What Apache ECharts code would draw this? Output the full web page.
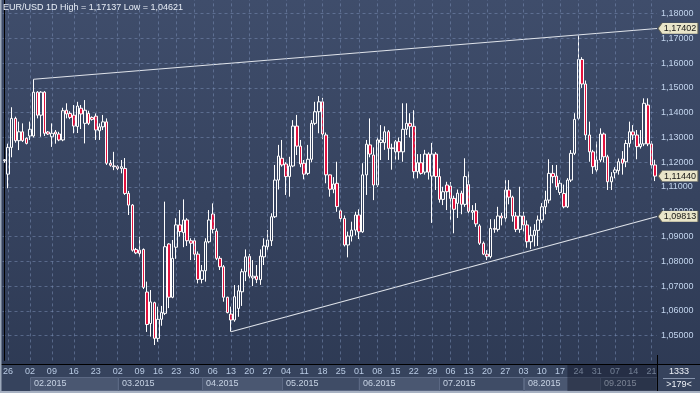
<!DOCTYPE html>
<html><head><meta charset="utf-8">
<script src="https://cdn.jsdelivr.net/npm/echarts@6/dist/echarts.min.js"></script>
<style>html,body{margin:0;padding:0;background:#36435e;overflow:hidden}#c{width:700px;height:393px}</style>
</head><body><div id="c"></div>
<script>
// ---- data ----
const dates = [
'2015-01-25','2015-01-26','2015-01-27','2015-01-28','2015-01-29','2015-01-30','2015-02-01',
'2015-02-02','2015-02-03','2015-02-04','2015-02-05','2015-02-06','2015-02-08',
'2015-02-09','2015-02-10','2015-02-11','2015-02-12','2015-02-13','2015-02-15',
'2015-02-16','2015-02-17','2015-02-18','2015-02-19','2015-02-20','2015-02-22',
'2015-02-23','2015-02-24','2015-02-25','2015-02-26','2015-02-27','2015-03-01',
'2015-03-02','2015-03-03','2015-03-04','2015-03-05','2015-03-06','2015-03-08',
'2015-03-09','2015-03-10','2015-03-11','2015-03-12','2015-03-13',
'2015-03-16','2015-03-17','2015-03-18','2015-03-19','2015-03-20',
'2015-03-23','2015-03-24','2015-03-25','2015-03-26','2015-03-27',
'2015-03-30','2015-03-31','2015-04-01','2015-04-02','2015-04-03',
'2015-04-06','2015-04-07','2015-04-08','2015-04-09','2015-04-10',
'2015-04-13','2015-04-14','2015-04-15','2015-04-16','2015-04-17',
'2015-04-20','2015-04-21','2015-04-22','2015-04-23','2015-04-24',
'2015-04-27','2015-04-28','2015-04-29','2015-04-30','2015-05-01',
'2015-05-04','2015-05-05','2015-05-06','2015-05-07','2015-05-08',
'2015-05-11','2015-05-12','2015-05-13','2015-05-14','2015-05-15',
'2015-05-18','2015-05-19','2015-05-20','2015-05-21','2015-05-22',
'2015-05-25','2015-05-26','2015-05-27','2015-05-28','2015-05-29',
'2015-06-01','2015-06-02','2015-06-03','2015-06-04','2015-06-05',
'2015-06-08','2015-06-09','2015-06-10','2015-06-11','2015-06-12',
'2015-06-15','2015-06-16','2015-06-17','2015-06-18','2015-06-19',
'2015-06-22','2015-06-23','2015-06-24','2015-06-25','2015-06-26',
'2015-06-29','2015-06-30','2015-07-01','2015-07-02','2015-07-03',
'2015-07-06','2015-07-07','2015-07-08','2015-07-09','2015-07-10',
'2015-07-13','2015-07-14','2015-07-15','2015-07-16','2015-07-17',
'2015-07-20','2015-07-21','2015-07-22','2015-07-23','2015-07-24',
'2015-07-27','2015-07-28','2015-07-29','2015-07-30','2015-07-31',
'2015-08-03','2015-08-04','2015-08-05','2015-08-06','2015-08-07',
'2015-08-10','2015-08-11','2015-08-12','2015-08-13','2015-08-14',
'2015-08-17','2015-08-18','2015-08-19','2015-08-20','2015-08-21',
'2015-08-24','2015-08-25','2015-08-26','2015-08-27','2015-08-28',
'2015-08-31','2015-09-01','2015-09-02','2015-09-03','2015-09-04',
'2015-09-07','2015-09-08','2015-09-09','2015-09-10','2015-09-11',
'2015-09-14','2015-09-15','2015-09-16','2015-09-17','2015-09-18',
'2015-09-21','2015-09-22'];

const open = [
1.1206,1.1152,1.1260,1.1377,1.1287,1.1323,1.1297,1.1306,1.1306,1.1483,
1.1390,1.1483,1.1322,1.1303,1.1322,1.1314,1.1290,1.1410,1.1397,1.1390,
1.1344,1.1418,1.1357,1.1397,1.1381,1.1386,1.1327,1.1343,1.1363,1.1196,
1.1185,1.1182,1.1175,1.1175,1.1074,1.1027,1.0848,1.0845,1.0848,1.0676,
1.0549,1.0633,1.0489,1.0566,1.0590,1.0870,1.0655,1.0857,1.0947,1.0916,
1.0967,1.0883,1.0883,1.0829,1.0727,1.0762,1.0879,1.0991,1.0922,1.0812,
1.0778,1.0655,1.0587,1.0563,1.0610,1.0677,1.0758,1.0820,1.0733,1.0740,
1.0726,1.0818,1.0859,1.0883,1.0980,1.1128,1.1216,1.1193,1.1142,1.1185,
1.1346,1.1265,1.1196,1.1155,1.1212,1.1357,1.1404,1.1444,1.1310,1.1149,
1.1091,1.1115,1.1004,1.0973,1.0866,1.0902,1.0926,1.0987,1.0919,1.1149,
1.1270,1.1229,1.1108,1.1280,1.1279,1.1323,1.1258,1.1242,1.1283,1.1242,
1.1333,1.1357,1.1345,1.1162,1.1198,1.1160,1.1233,1.1144,1.1233,1.1142,
1.1050,1.1108,1.1104,1.1054,1.1034,1.1075,1.1030,1.1110,1.0998,1.1004,
1.0943,1.0873,1.0829,1.0819,1.0933,1.0929,1.0983,1.0975,1.1088,1.1059,
1.0983,1.0929,1.0983,1.0947,1.0879,1.0905,1.0925,1.0967,1.1020,1.1047,
1.1155,1.1144,1.1078,1.1074,1.1020,1.1128,1.1236,1.1377,1.1615,1.1516,
1.1310,1.1242,1.1169,1.1209,1.1314,1.1222,1.1121,1.1158,1.1166,1.1213,
1.1202,1.1276,1.1323,1.1310,1.1263,1.1274,1.1431,1.1274,1.1189];

const high = [
1.1212,1.1275,1.1422,1.1384,1.1364,1.1357,1.1300,1.1364,1.1535,1.1487,
1.1487,1.1487,1.1326,1.1357,1.1330,1.1323,1.1420,1.1438,1.1406,1.1431,
1.1444,1.1431,1.1451,1.1408,1.1385,1.1397,1.1357,1.1391,1.1377,1.1209,
1.1242,1.1189,1.1209,1.1217,1.1084,1.1031,1.0854,1.0899,1.0852,1.0718,
1.0684,1.0637,1.0617,1.0620,1.1041,1.0873,1.0886,1.0974,1.1007,1.1050,
1.0974,1.0893,1.0894,1.0840,1.0785,1.0893,1.1007,1.1034,1.0933,1.0821,
1.0785,1.0657,1.0617,1.0704,1.0704,1.0770,1.0848,1.0830,1.0805,1.0785,
1.0848,1.0893,1.0926,1.0994,1.1189,1.1270,1.1290,1.1200,1.1222,1.1370,
1.1391,1.1290,1.1209,1.1270,1.1370,1.1444,1.1467,1.1460,1.1320,1.1150,
1.1140,1.1202,1.1010,1.0985,1.0920,1.0960,1.1000,1.1010,1.1196,1.1290,
1.1377,1.1260,1.1300,1.1350,1.1345,1.1330,1.1275,1.1290,1.1300,1.1438,
1.1438,1.1398,1.1410,1.1233,1.1233,1.1250,1.1240,1.1278,1.1241,1.1175,
1.1101,1.1121,1.1120,1.1065,1.1090,1.1085,1.1216,1.1162,1.1027,1.1035,
1.0950,1.0880,1.0845,1.0970,1.0970,1.1020,1.0995,1.1128,1.1128,1.1065,
1.0999,1.1101,1.1000,1.0965,1.0940,1.0950,1.0985,1.1035,1.1085,1.1212,
1.1189,1.1189,1.1128,1.1110,1.1136,1.1249,1.1398,1.1714,1.1624,1.1530,
1.1364,1.1250,1.1283,1.1337,1.1320,1.1230,1.1160,1.1180,1.1215,1.1245,
1.1290,1.1364,1.1350,1.1330,1.1330,1.1458,1.1458,1.1285,1.1210];

const low = [
1.1198,1.1095,1.1220,1.1279,1.1249,1.1282,1.1272,1.1290,1.1300,1.1377,
1.1303,1.1306,1.1310,1.1262,1.1275,1.1285,1.1285,1.1377,1.1374,1.1317,
1.1318,1.1334,1.1276,1.1350,1.1368,1.1290,1.1290,1.1330,1.1189,1.1182,
1.1168,1.1168,1.1155,1.1068,1.0987,1.0839,1.0829,1.0818,1.0688,1.0515,
1.0496,1.0462,1.0475,1.0540,1.0583,1.0611,1.0651,1.0810,1.0900,1.0857,
1.0862,1.0805,1.0805,1.0711,1.0711,1.0718,1.0873,1.0913,1.0805,1.0765,
1.0637,1.0590,1.0516,1.0556,1.0576,1.0620,1.0720,1.0731,1.0700,1.0712,
1.0705,1.0785,1.0845,1.0862,1.0975,1.1090,1.1182,1.1068,1.1061,1.1180,
1.1229,1.1180,1.1131,1.1148,1.1200,1.1350,1.1317,1.1293,1.1115,1.1061,
1.1075,1.1000,1.0960,1.0860,1.0816,1.0880,1.0905,1.0890,1.0915,1.1068,
1.1220,1.1047,1.1100,1.1209,1.1250,1.1209,1.1170,1.1210,1.1210,1.1202,
1.1310,1.1300,1.1135,1.1135,1.1150,1.1150,1.1130,1.0955,1.1088,1.1037,
1.1027,1.1007,1.0967,1.0913,1.0975,1.0990,1.1020,1.0994,1.0967,1.0939,
1.0866,1.0825,1.0805,1.0812,1.0915,1.0920,1.0945,1.0960,1.1030,1.0960,
1.0918,1.0915,1.0920,1.0855,1.0850,1.0860,1.0862,1.0955,1.0990,1.1034,
1.1115,1.1088,1.1068,1.1014,1.1015,1.1120,1.1229,1.1370,1.1500,1.1290,
1.1202,1.1153,1.1160,1.1200,1.1200,1.1088,1.1088,1.1135,1.1150,1.1150,
1.1180,1.1260,1.1290,1.1212,1.1255,1.1265,1.1265,1.1175,1.1124];

const close = [
1.1210,1.1260,1.1377,1.1287,1.1323,1.1287,1.1276,1.1333,1.1483,1.1390,
1.1483,1.1317,1.1314,1.1317,1.1314,1.1290,1.1408,1.1395,1.1381,1.1346,
1.1427,1.1395,1.1410,1.1357,1.1373,1.1330,1.1343,1.1363,1.1196,1.1188,
1.1182,1.1175,1.1182,1.1074,1.1027,1.0845,1.0834,1.0832,1.0695,1.0545,
1.0636,1.0489,1.0566,1.0593,1.0859,1.0655,1.0812,1.0947,1.0920,1.0967,
1.0883,1.0873,1.0829,1.0727,1.0762,1.0879,1.0967,1.0929,1.0812,1.0778,
1.0655,1.0593,1.0563,1.0657,1.0681,1.0758,1.0818,1.0740,1.0740,1.0726,
1.0821,1.0862,1.0886,1.0980,1.1128,1.1225,1.1189,1.1142,1.1185,1.1346,
1.1265,1.1193,1.1152,1.1212,1.1357,1.1404,1.1444,1.1314,1.1149,1.1091,
1.1112,1.1021,1.0973,1.0866,1.0902,1.0926,1.0987,1.0919,1.1149,1.1273,
1.1233,1.1108,1.1290,1.1290,1.1323,1.1256,1.1255,1.1283,1.1242,1.1333,
1.1357,1.1345,1.1162,1.1198,1.1155,1.1233,1.1160,1.1233,1.1142,1.1050,
1.1081,1.1081,1.1054,1.1010,1.1075,1.1030,1.1142,1.1002,1.1005,1.0951,
1.0873,1.0829,1.0819,1.0933,1.0929,1.0983,1.0975,1.1088,1.1059,1.0983,
1.0929,1.0983,1.0947,1.0879,1.0905,1.0925,1.0967,1.1020,1.1047,1.1155,
1.1142,1.1101,1.1115,1.1020,1.1128,1.1236,1.1373,1.1615,1.1516,1.1310,
1.1242,1.1182,1.1209,1.1314,1.1222,1.1121,1.1141,1.1169,1.1202,1.1196,
1.1276,1.1323,1.1310,1.1263,1.1274,1.1438,1.1274,1.1189,1.1144];

const titleText = 'EUR/USD 1D High = 1,17137 Low = 1,04621';
const upperStart = 8;          // candle where the upper trend line starts (its high)
const lowerStart = 62;         // candle where the lower trend line starts (its low)
const upperEndValue = 1.17402; // value of upper line at the right edge
const lowerEndValue = 1.09813; // value of lower line at the right edge
const footerTop = '1333';
const footerBottom = '>179<';
const yMin = 1.04, yMax = 1.1855, yStep = 0.01;
const labelMin = 1.05, labelMax = 1.18;

// ---- helpers ----
const FONT = '"Liberation Sans", Arial, sans-serif';
const fmt = v => v.toFixed(5).replace('.', ',');
const dow = d => new Date(d + 'T00:00:00Z').getUTCDay();
const isMonday = d => dow(d) === 1;
const isWeekday = d => { const w = dow(d); return w >= 1 && w <= 5; };
const ohlc = dates.map((d, i) => [open[i], close[i], low[i], high[i]]);
const mondays = dates.filter(isMonday);
const N = dates.length;
const gridCol = 'rgba(120,140,178,0.55)';

const chart = echarts.init(document.getElementById('c'), null, {renderer: 'canvas', width: 700, height: 393});

const gridH = 360.4; // plot height from top edge down to yMin

chart.setOption({
  animation: false,
  backgroundColor: {type: 'linear', x: 0, y: 0, x2: 0, y2: 1,
    colorStops: [{offset: 0, color: '#3f4d6b'}, {offset: 1, color: '#2d3953'}]},
  title: {text: titleText, left: 3, top: 3, padding: 0,
    textStyle: {color: '#e8eef7', fontSize: 9, fontWeight: 'normal', fontFamily: FONT}},
  grid: {left: 0.5, right: 43, top: 0, height: gridH},
  xAxis: [
    {type: 'category', data: dates, boundaryGap: true, offset: 364 - gridH,
     axisLine: {show: true, lineStyle: {color: '#000000', width: 1}},
     axisTick: {show: false},
     axisLabel: {interval: (i, v) => isMonday(v), formatter: v => v.slice(8, 10),
       color: '#b9cbe4', fontSize: 9, fontFamily: FONT, margin: 3},
     splitLine: {show: false}},
    {type: 'value', min: -0.5, max: N - 0.5, show: false}
  ],
  yAxis: {type: 'value', position: 'right', min: yMin, max: yMax, interval: yStep,
    axisLine: {show: true, lineStyle: {color: '#000000', width: 1}},
    axisTick: {show: false},
    axisLabel: {color: '#c3d5ee', fontSize: 9, fontFamily: FONT, margin: 4,
      showMaxLabel: false,
      formatter: v => (v >= labelMin - 1e-6 && v <= labelMax + 1e-6) ? fmt(v) : ''},
    splitLine: {show: true, showMinLine: false, showMaxLine: false,
      lineStyle: {color: gridCol, type: [3, 3], width: 1}}},
  series: [
    {type: 'line', xAxisIndex: 0, data: [], z: 1, silent: true,
     markLine: {silent: true, symbol: ['none', 'none'], label: {show: false},
       lineStyle: {color: gridCol, type: [3, 3], width: 1},
       data: mondays.map(d => ({xAxis: d}))}},
    {type: 'candlestick', xAxisIndex: 0, data: ohlc, barWidth: 3, z: 3,
     itemStyle: {color: 'rgba(0,0,0,0)', color0: '#e2123e', borderColor: '#ffffff',
       borderColor0: '#ffffff', borderWidth: 1}},
    {type: 'line', xAxisIndex: 1, z: 4, symbol: 'none', silent: true,
     lineStyle: {color: '#dfe3ea', width: 1.1},
     data: [[upperStart, high[upperStart]], [N - 0.5, upperEndValue]],
     markPoint: {symbol: 'path://M0,5 L4,0 L40,0 L40,10 L4,10 Z', symbolSize: [40, 11],
       symbolOffset: [21, 0], silent: true,
       itemStyle: {color: '#e9e5c9', borderColor: '#5d5d52', borderWidth: 0.6},
       label: {show: true, color: '#151515', fontSize: 9, fontFamily: FONT, offset: [2, 0],
         formatter: p => fmt(p.value)},
       data: [{coord: [N - 0.5, upperEndValue], value: upperEndValue}]}},
    {type: 'line', xAxisIndex: 1, z: 4, symbol: 'none', silent: true,
     lineStyle: {color: '#dfe3ea', width: 1.1},
     data: [[lowerStart, low[lowerStart]], [N - 0.5, lowerEndValue]],
     markPoint: {symbol: 'path://M0,5 L4,0 L40,0 L40,10 L4,10 Z', symbolSize: [40, 11],
       symbolOffset: [21, 0], silent: true,
       itemStyle: {color: '#e9e5c9', borderColor: '#5d5d52', borderWidth: 0.6},
       label: {show: true, color: '#151515', fontSize: 9, fontFamily: FONT, offset: [2, 0],
         formatter: p => fmt(p.value)},
       data: [{coord: [N - 0.5, lowerEndValue], value: lowerEndValue},
              {coord: [N - 0.5, close[N - 1]], value: close[N - 1]}]}}
  ]
});

// ---- frame: date strip, month boxes, footer ----
const px = i => chart.convertToPixel({xAxisIndex: 0}, dates[i]);
const rightX = 657;
const monthStarts = [];
let lastMonth = null;
dates.forEach((d, i) => {
  const m = d.slice(0, 7);
  if (isWeekday(d) && m !== lastMonth) { monthStarts.push(i); lastMonth = m; }
});
const g = [];
g.push({type: 'rect', shape: {x: 0, y: 364.5, width: 700, height: 27}, style: {fill: '#36435d'}, z: 0, silent: true});
monthStarts.slice(1).forEach((idx, k, arr) => {
  const x0 = px(idx);
  const x1 = k + 1 < arr.length ? px(arr[k + 1]) : rightX;
  const d = dates[idx];
  g.push({type: 'rect', shape: {x: Math.round(x0) + 0.5, y: 377.5, width: x1 - x0, height: 13},
    style: {fill: k % 2 === 0 ? '#4a5771' : '#3f4c66', stroke: '#5b6883', lineWidth: 1}, z: 1, silent: true});
  g.push({type: 'text', x: Math.round(x0) + 4, y: 384, z: 2, silent: true,
    style: {text: d.slice(5, 7) + '.' + d.slice(0, 4), fill: '#c7d3e4', fontSize: 9, fontFamily: FONT, verticalAlign: 'middle'}});
});
// dark overlay on the last part of the date strip
const ovX = px(154);
g.push({type: 'rect', shape: {x: ovX, y: 364.5, width: rightX - ovX, height: 26.5},
  style: {fill: 'rgba(14,20,36,0.42)'}, z: 50, silent: true});
// right footer cell
g.push({type: 'rect', shape: {x: rightX + 0.5, y: 364.5, width: 43, height: 26.5}, style: {fill: '#36435d'}, z: 51, silent: true});
g.push({type: 'text', x: 679, y: 372, z: 52, silent: true,
  style: {text: footerTop, fill: '#eef2f8', fontSize: 9, fontFamily: FONT, align: 'center', verticalAlign: 'middle'}});
g.push({type: 'line', shape: {x1: 663, y1: 378.5, x2: 695, y2: 378.5}, style: {stroke: '#8795ad', lineWidth: 1}, z: 52, silent: true});
g.push({type: 'text', x: 679, y: 385, z: 52, silent: true,
  style: {text: footerBottom, fill: '#eef2f8', fontSize: 9, fontFamily: FONT, align: 'center', verticalAlign: 'middle'}});
// axis line extension and borders
g.push({type: 'line', shape: {x1: rightX + 0.5, y1: 355, x2: rightX + 0.5, y2: 393}, style: {stroke: '#000', lineWidth: 1}, z: 53, silent: true});
g.push({type: 'line', shape: {x1: 0, y1: 364.5, x2: 700, y2: 364.5}, style: {stroke: '#000', lineWidth: 1}, z: 53, silent: true});
g.push({type: 'rect', shape: {x: 0, y: 0, width: 1.5, height: 393}, style: {fill: '#9da9bb'}, z: 60, silent: true});
g.push({type: 'rect', shape: {x: 0, y: 391, width: 700, height: 2}, style: {fill: '#a7b1c2'}, z: 60, silent: true});
chart.setOption({graphic: g});
</script>
</body></html>
